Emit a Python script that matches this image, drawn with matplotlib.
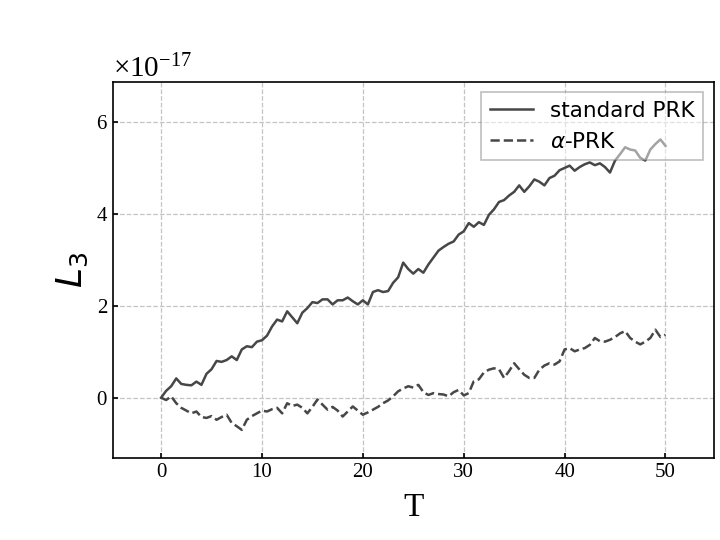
import numpy as np
import matplotlib
matplotlib.use("Agg")
from matplotlib import pyplot as plt
from matplotlib.ticker import ScalarFormatter

# time grid (step 0.5) and the two error curves (units of 1e-17)
T = [i * 0.5 for i in range(101)]

standard_prk = [
    0.00, 0.15, 0.25, 0.42, 0.30, 0.28, 0.27, 0.35, 0.28, 0.52,
    0.62, 0.80, 0.78, 0.82, 0.90, 0.82, 1.05, 1.12, 1.10, 1.22,
    1.25, 1.35, 1.55, 1.70, 1.66, 1.88, 1.75, 1.62, 1.85, 1.95,
    2.08, 2.06, 2.14, 2.14, 2.03, 2.12, 2.12, 2.18, 2.10, 2.03,
    2.12, 2.03, 2.30, 2.34, 2.30, 2.32, 2.50, 2.62, 2.94, 2.80,
    2.70, 2.80, 2.72, 2.90, 3.05, 3.20, 3.28, 3.35, 3.40, 3.55,
    3.62, 3.80, 3.72, 3.82, 3.76, 3.98, 4.10, 4.26, 4.30, 4.40,
    4.48, 4.62, 4.48, 4.60, 4.75, 4.70, 4.62, 4.78, 4.83, 4.95,
    5.00, 5.05, 4.94, 5.02, 5.08, 5.12, 5.06, 5.10, 5.02, 4.90,
    5.16, 5.30, 5.45, 5.40, 5.38, 5.22, 5.16, 5.40, 5.52, 5.62,
    5.48,
]

alpha_prk = [
    0.00, -0.05, 0.03, -0.12, -0.22, -0.28, -0.34, -0.30, -0.42, -0.44,
    -0.40, -0.48, -0.42, -0.37, -0.55, -0.62, -0.70, -0.48, -0.40, -0.34,
    -0.28, -0.30, -0.25, -0.22, -0.34, -0.12, -0.18, -0.15, -0.22, -0.34,
    -0.20, -0.04, -0.15, -0.26, -0.20, -0.28, -0.41, -0.30, -0.19, -0.28,
    -0.37, -0.32, -0.26, -0.20, -0.12, -0.06, 0.03, 0.14, 0.20, 0.25,
    0.22, 0.28, 0.12, 0.06, 0.10, 0.08, 0.07, 0.03, 0.12, 0.17,
    0.05, 0.10, 0.36, 0.40, 0.55, 0.61, 0.64, 0.62, 0.43, 0.58,
    0.75, 0.62, 0.50, 0.43, 0.43, 0.61, 0.70, 0.75, 0.72, 0.79,
    1.05, 1.08, 1.01, 1.05, 1.08, 1.15, 1.30, 1.23, 1.22, 1.26,
    1.32, 1.40, 1.45, 1.30, 1.22, 1.16, 1.22, 1.30, 1.48, 1.32,
    1.37,
]

scale = 1e-17

plt.rcParams['font.family'] = 'serif'
plt.rcParams['font.serif'] = ['Liberation Serif', 'DejaVu Serif']
plt.rcParams['mathtext.fontset'] = 'custom'
plt.rcParams['mathtext.rm'] = 'Liberation Serif'
plt.rcParams['mathtext.it'] = 'DejaVu Sans:italic'
plt.rcParams['mathtext.sf'] = 'DejaVu Sans'

fig = plt.figure(figsize=(7.2, 5.4), dpi=100)
ax = fig.add_axes([0.1565, 0.152, 0.835, 0.697])

col = '#474747'
ax.plot(T, np.array(standard_prk) * scale, '-', color=col, lw=1.8, label='standard PRK')
ax.plot(T, np.array(alpha_prk) * scale, '--', color=col, lw=1.8, label=r'$\alpha$-PRK')

ax.set_xlim(-4.8, 54.8)
ax.set_ylim(-1.31 * scale, 6.88 * scale)
ax.set_xticks([0, 10, 20, 30, 40, 50])
ax.set_yticks(np.array([0, 2, 4, 6]) * scale)

fmt = ScalarFormatter(useMathText=True)
ax.yaxis.set_major_formatter(fmt)

ax.tick_params(direction='in', labelsize=15, width=1.2)
ax.yaxis.get_offset_text().set_fontsize(21)
for sp in ax.spines.values():
    sp.set_linewidth(1.2)

ax.grid(True, linestyle='--', color='#c4c4c4', lw=0.9)

ax.set_xlabel('T', fontsize=24, labelpad=8)
ax.set_ylabel(r'$L_\mathsf{3}$', fontsize=26)

leg = ax.legend(loc='upper right', prop={'family': 'DejaVu Sans', 'size': 15.5},
                fancybox=False, framealpha=0.5, edgecolor='#808080')
leg.get_frame().set_linewidth(1.2)

fig.savefig('out.png', dpi=100)
